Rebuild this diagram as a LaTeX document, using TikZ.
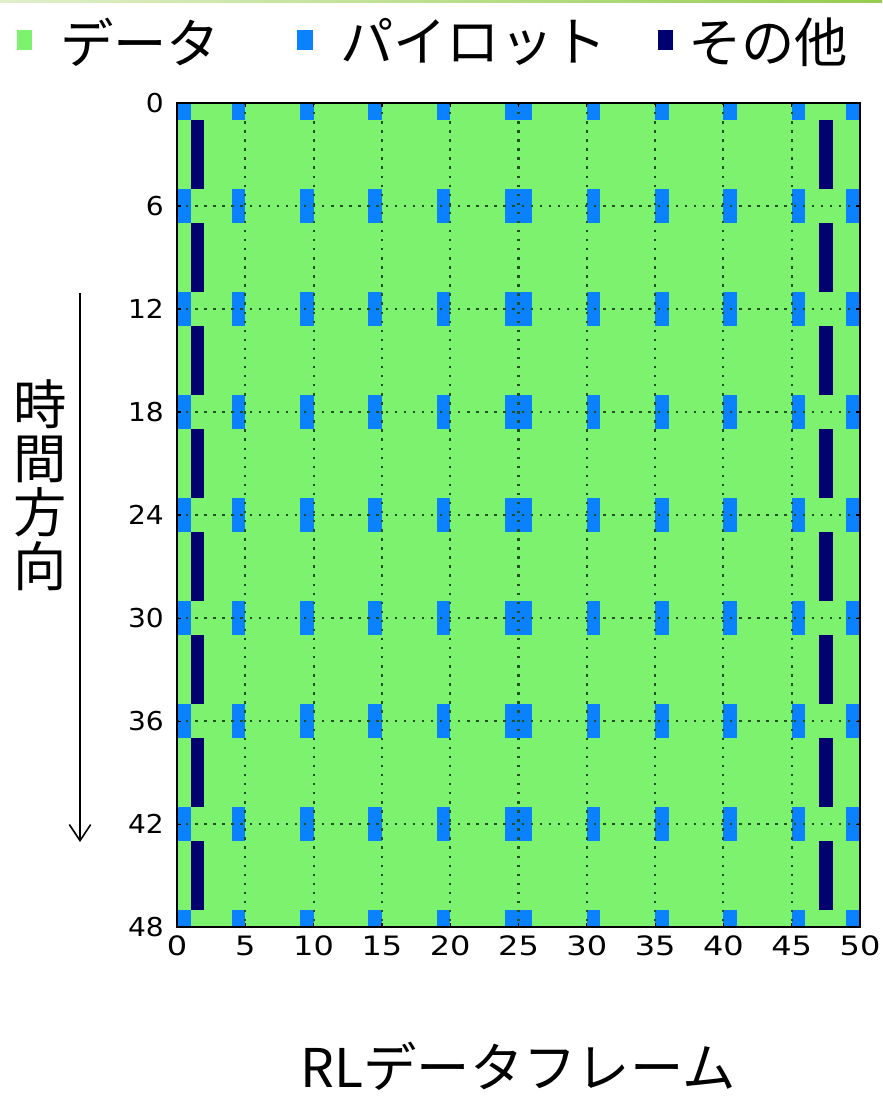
\documentclass[tikz,border=0pt]{standalone}
\usepackage{fontspec}
\usepackage{graphicx}
\usetikzlibrary{arrows.meta}
\newfontfamily\jp{Noto Sans CJK JP}
\newfontfamily\tk{DejaVu Sans}
\definecolor{datag}{RGB}{125,242,110}
\definecolor{pilotb}{RGB}{10,130,255}
\definecolor{othern}{RGB}{0,0,112}
\definecolor{gridc}{RGB}{35,80,35}
\definecolor{topline}{RGB}{150,205,80}
\begin{document}
\begin{tikzpicture}[x=0.75pt,y=-0.75pt,
  jptext/.style={font=\jp\fontsize{40}{40.5}\selectfont, inner sep=0pt},
  ytick/.style={font=\tk\fontsize{19.5}{21}\selectfont, anchor=east, inner sep=0pt, text height=14pt, text depth=0pt},
  xtick/.style={font=\tk\fontsize{20}{21}\selectfont, anchor=north, inner sep=0pt, text height=14.6pt, text depth=0pt},
  pilot/.style={fill=pilotb},
  other/.style={fill=othern},
  gridline/.style={draw=gridc, line width=1.6pt, dash pattern=on 1.8pt off 5pt},
  tickmark/.style={draw=black, line width=0.9pt},
]
\useasboundingbox (0,0) rectangle (882,1098);
\fill[left color=topline!30, right color=topline] (0,0) rectangle (882,3);

% legend
\fill[datag] (17,30) rectangle (32,50);
\node[jptext, anchor=west] (l1) at (60,42) {データ};
\fill[pilotb] (297,30) rectangle (313,50);
\node[jptext, anchor=west] (l2) at (340,42) {パイロット};
\fill[othern] (658,30) rectangle (673,50);
\node[jptext, anchor=west] (l3) at (688,42) {その他};

% plot
\begin{scope}[shift={(177,103)}, x=10.245pt, y=-12.8775pt]
  \fill[datag] (0,0) rectangle (50,48);
  \foreach \a/\b in {0/1,4/5,9/10,14/15,19/20,24/26,30/31,35/36,40/41,45/46,49/50}
    \foreach \c/\d in {0/1,5/7,11/13,17/19,23/25,29/31,35/37,41/43,47/48}
      \fill[pilot] (\a,\c) rectangle (\b,\d);
  \foreach \c/\d in {1/5,7/11,13/17,19/23,25/29,31/35,37/41,43/47} {
    \fill[other] (1,\c) rectangle (2,\d);
    \fill[other] (47,\c) rectangle (48,\d);
  }
  \foreach \v in {5,10,...,45}
    \draw[gridline] (\v,0) -- (\v,48);
  \foreach \v in {6,12,...,42}
    \draw[gridline] (0,\v) -- (50,\v);
  \foreach \v in {5,10,...,45} {
    \draw[tickmark] (\v,0) -- (\v,0.25);
    \draw[tickmark] (\v,48) -- (\v,47.75);
  }
  \foreach \v in {6,12,...,42} {
    \draw[tickmark] (0,\v) -- (0.3,\v);
    \draw[tickmark] (50,\v) -- (49.7,\v);
  }
  \draw[line width=1.5pt] (0,0) rectangle (50,48);
  \foreach \v in {0,6,...,48}
    \node[ytick] (y\v) at (-0.95,\v) {\scalebox{1.08}[1]{\v}};
  \foreach \v in {0,5,...,50}
    \node[xtick] (x\v) at (\v,48.5) {\scalebox{1.2}[1]{\v}};
\end{scope}

% time direction
\node[jptext, align=center] (tdir) at (40,485) {時\\間\\方\\向};
\coordinate (arrs) at (80,293);
\coordinate (arre) at (80,842);
\draw[line width=1.5pt, -{Straight Barb[length=12pt,width=16pt,line width=1.2pt]}] (arrs) -- (arre);

% bottom label
\node[jptext] (xlab) at (518,1066) {RLデータフレーム};
\end{tikzpicture}
\end{document}
